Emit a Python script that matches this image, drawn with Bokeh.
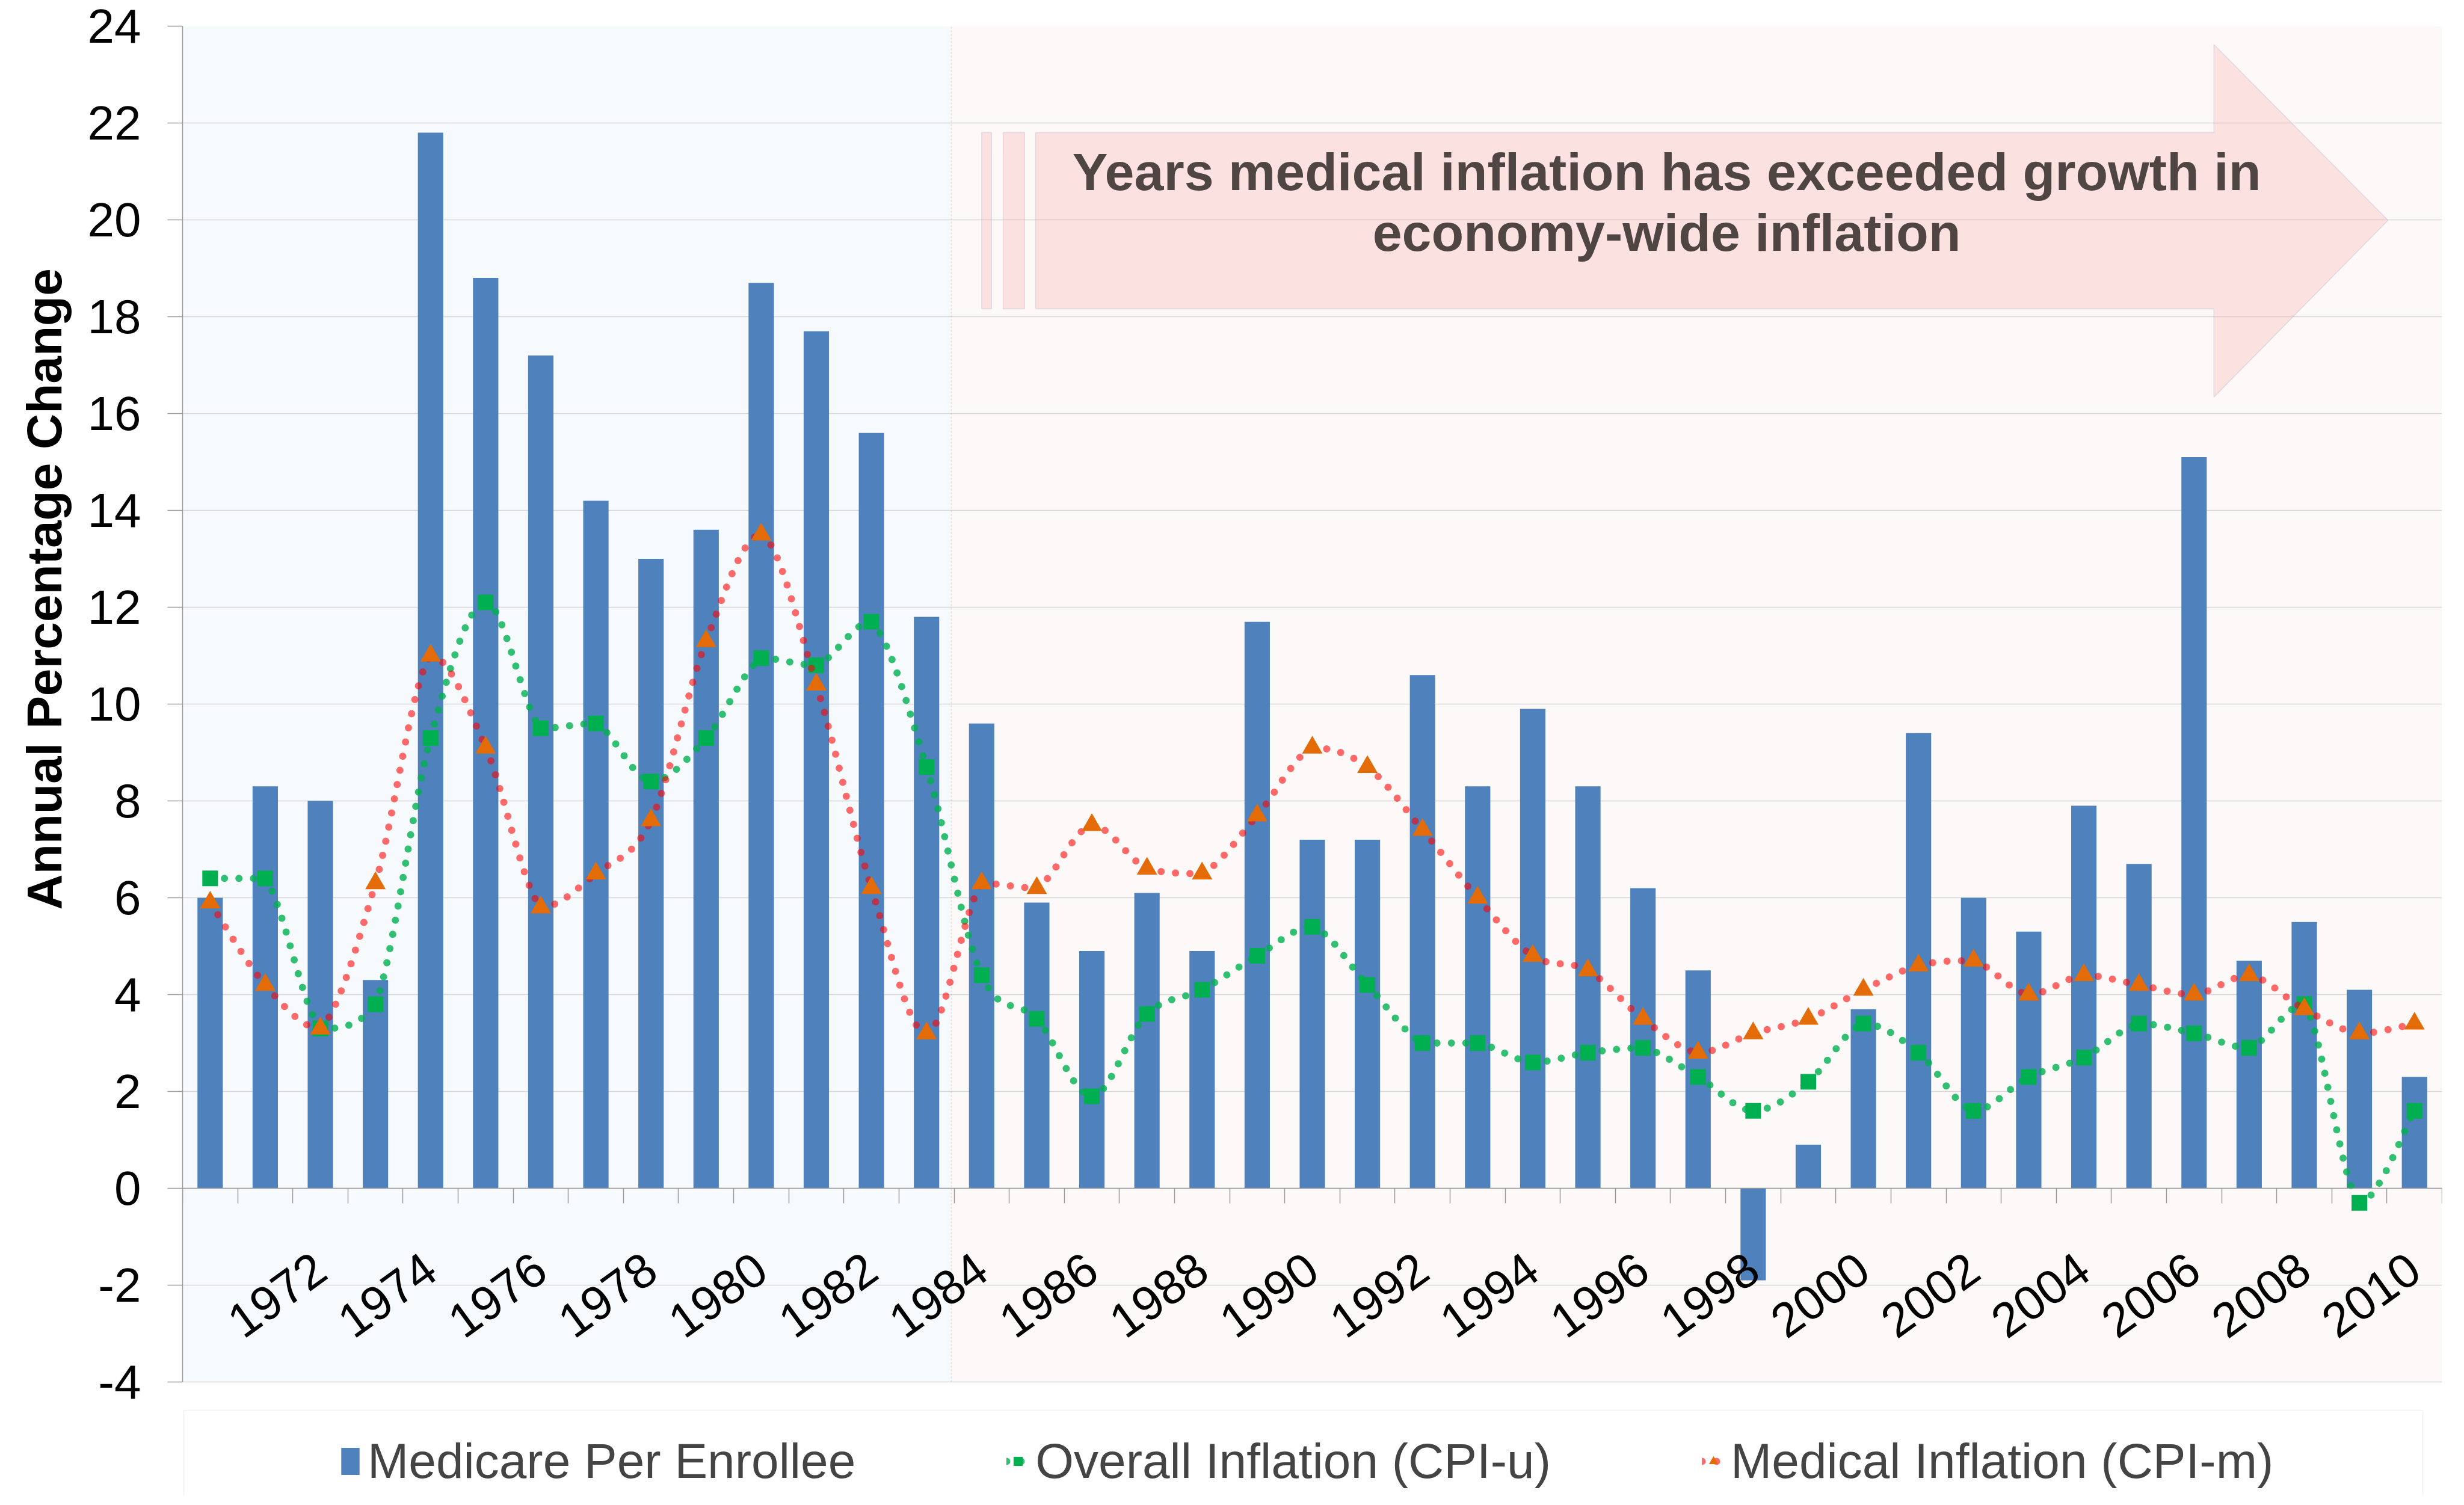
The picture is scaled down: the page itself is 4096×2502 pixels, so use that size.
import math
from bokeh.plotting import figure
from bokeh.models import (FixedTicker, Legend, LegendItem, BoxAnnotation, Title,
                          PolyAnnotation, Label, Range1d, ColumnDataSource)
from bokeh.embed import file_html
from bokeh.resources import INLINE

# ---------------- data ----------------
years = list(range(1970, 2011))
medicare_per_enrollee = [6.0, 8.3, 8.0, 4.3, 21.8, 18.8, 17.2, 14.2, 13.0, 13.6,
                         18.7, 17.7, 15.6, 11.8, 9.6, 5.9, 4.9, 6.1, 4.9, 11.7,
                         7.2, 7.2, 10.6, 8.3, 9.9, 8.3, 6.2, 4.5, -1.9, 0.9,
                         3.7, 9.4, 6.0, 5.3, 7.9, 6.7, 15.1, 4.7, 5.5, 4.1,
                         2.3]
overall_inflation_cpi_u = [6.4, 6.4, 3.3, 3.8, 9.3, 12.1, 9.5, 9.6, 8.4, 9.3,
                           10.95, 10.8, 11.7, 8.7, 4.4, 3.5, 1.9, 3.6, 4.1, 4.8,
                           5.4, 4.2, 3.0, 3.0, 2.6, 2.8, 2.9, 2.3, 1.6, 2.2,
                           3.4, 2.8, 1.6, 2.3, 2.7, 3.4, 3.2, 2.9, 3.8, -0.3,
                           1.6]
medical_inflation_cpi_m = [5.9, 4.2, 3.3, 6.3, 11.0, 9.1, 5.8, 6.5, 7.6, 11.3,
                           13.5, 10.4, 6.2, 3.2, 6.3, 6.2, 7.5, 6.6, 6.5, 7.7,
                           9.1, 8.7, 7.4, 6.0, 4.8, 4.5, 3.5, 2.8, 3.2, 3.5,
                           4.1, 4.6, 4.7, 4.0, 4.4, 4.2, 4.0, 4.4, 3.7, 3.2,
                           3.4]
x_tick_labels = list(range(1972, 2011, 2))
y_ticks = list(range(-4, 25, 2))
series_names = ["Medicare Per Enrollee", "Overall Inflation (CPI-u)", "Medical Inflation (CPI-m)"]
arrow_text = ["Years medical inflation has exceeded growth in", "economy-wide inflation"]
y_title = "Annual Percentage Change"

FONT = "Liberation Sans"
PX_PER_UNIT = 80.5
FRAME_H = 2443
Y_LOW = y_ticks[-1] - FRAME_H / PX_PER_UNIT   # frame extends below -4 to hold the legend

# ---------------- figure ----------------
p = figure(frame_width=3756, frame_height=FRAME_H,
           min_border_left=303, min_border_right=21, min_border_top=43, min_border_bottom=0,
           x_range=Range1d(years[0] - 0.5, years[-1] + 0.5), y_range=Range1d(Y_LOW, y_ticks[-1]),
           output_backend="svg", toolbar_location=None)
p.background_fill_color = "white"
p.border_fill_color = "white"
p.outline_line_color = None

p.xgrid.visible = False
p.ygrid.ticker = FixedTicker(ticks=y_ticks)
p.ygrid.grid_line_color = "#D6D6D6"
p.ygrid.grid_line_width = 1.5

# shaded regions and divider
p.add_layout(BoxAnnotation(left=years[0] - 0.5, right=1983.45, bottom=y_ticks[0], top=y_ticks[-1],
                           fill_color="#F6FAFC", fill_alpha=1.0, line_alpha=0, level="image"))
p.add_layout(BoxAnnotation(left=1983.45, right=years[-1] + 0.5, bottom=y_ticks[0], top=y_ticks[-1],
                           fill_color="#FDF9F8", fill_alpha=1.0, line_alpha=0, level="image"))
p.add_layout(PolyAnnotation(xs=[1983.45, 1983.45], ys=[y_ticks[0], y_ticks[-1]], fill_alpha=0,
                            line_color="#9A9A9A", line_dash="3 3", line_width=1.5, level="underlay"))

# arrow annotation
arrow_style = dict(fill_color="#F7A8A8", fill_alpha=0.30, line_color="#A8A8C8", line_width=1.5)
p.add_layout(PolyAnnotation(xs=[1984.98, 2006.36, 2006.36, 2009.52, 2006.36, 2006.36, 1984.98],
                            ys=[21.80, 21.80, 23.62, 19.99, 16.34, 18.16, 18.16],
                            level="underlay", **arrow_style))
p.add_layout(BoxAnnotation(left=1984.00, right=1984.18, top=21.80, bottom=18.16, level="underlay", **arrow_style))
p.add_layout(BoxAnnotation(left=1984.39, right=1984.78, top=21.80, bottom=18.16, level="underlay", **arrow_style))

# bars
bars = p.vbar(x=years, top=medicare_per_enrollee, bottom=0, width=0.46,
              fill_color="#4F81BD", line_color=None)


def smooth_segments(xs, ys):
    """Cubic Bezier control points for a smoothed line (no overshoot between points)."""
    n = len(xs)
    out = dict(x0=[], y0=[], x1=[], y1=[], cx0=[], cy0=[], cx1=[], cy1=[])
    for i in range(n - 1):
        a = max(i - 1, 0)
        d = min(i + 2, n - 1)
        lo, hi = min(ys[i], ys[i + 1]), max(ys[i], ys[i + 1])
        out["x0"].append(xs[i]); out["y0"].append(ys[i])
        out["x1"].append(xs[i + 1]); out["y1"].append(ys[i + 1])
        out["cx0"].append(xs[i] + (xs[i + 1] - xs[a]) / 6.0)
        out["cy0"].append(min(hi, max(lo, ys[i] + (ys[i + 1] - ys[a]) / 6.0)))
        out["cx1"].append(xs[i + 1] - (xs[d] - xs[i]) / 6.0)
        out["cy1"].append(min(hi, max(lo, ys[i + 1] - (ys[d] - ys[i]) / 6.0)))
    return ColumnDataSource(out)


dot_style = dict(line_width=12, line_dash="0 24", line_cap="round")
g_line = p.bezier(x0="x0", y0="y0", x1="x1", y1="y1", cx0="cx0", cy0="cy0", cx1="cx1", cy1="cy1",
                  source=smooth_segments(years, overall_inflation_cpi_u),
                  line_color="#00B050", line_alpha=0.8, **dot_style)
g_pts = p.scatter(x=years, y=overall_inflation_cpi_u, marker="square", size=26,
                  fill_color="#00B050", line_color=None)
r_line = p.bezier(x0="x0", y0="y0", x1="x1", y1="y1", cx0="cx0", cy0="cy0", cx1="cx1", cy1="cy1",
                  source=smooth_segments(years, medical_inflation_cpi_m),
                  line_color="#FF0000", line_alpha=0.58, **dot_style)
r_pts = p.scatter(x=years, y=medical_inflation_cpi_m, marker="triangle", size=34,
                  fill_color="#E36C09", line_color=None)

# arrow text
for txt, yy in zip(arrow_text, [21.00, 19.74]):
    p.add_layout(Label(x=1996.43, y=yy, text=txt, text_align="center", text_baseline="alphabetic",
                       text_font=FONT, text_font_size="88px", text_font_style="bold",
                       text_color="#4F4543"))

# axes
xa = p.xaxis[0]
xa.fixed_location = 0
xa.ticker = FixedTicker(ticks=x_tick_labels, minor_ticks=[y - 0.5 for y in years] + [years[-1] + 0.5])
xa.major_label_overrides = {y: str(y) for y in x_tick_labels}
xa.major_tick_out = 0
xa.major_tick_in = 0
xa.minor_tick_out = 25
xa.minor_tick_in = 0
xa.minor_tick_line_color = "#9A9A9A"
xa.minor_tick_line_width = 1.5
xa.axis_line_color = "#9A9A9A"
xa.axis_line_width = 1.5
xa.major_label_orientation = math.radians(36)
xa.major_label_text_font = FONT
xa.major_label_text_font_size = "80px"
xa.major_label_text_color = "black"
xa.major_label_standoff = 100

ya = p.yaxis[0]
ya.bounds = (y_ticks[0], y_ticks[-1])
ya.ticker = FixedTicker(ticks=y_ticks)
ya.major_label_overrides = {t: str(t) for t in y_ticks}
ya.major_tick_out = 25
ya.major_tick_in = 0
ya.minor_tick_out = 0
ya.minor_tick_in = 0
ya.axis_line_color = "#9A9A9A"
ya.axis_line_width = 1.5
ya.major_tick_line_color = "#9A9A9A"
ya.major_tick_line_width = 1.5
ya.major_label_text_font = FONT
ya.major_label_text_font_size = "80px"
ya.major_label_text_color = "black"
ya.major_label_standoff = 44

p.add_layout(Title(text=y_title, align="left", offset=974, standoff=48,
                   text_font=FONT, text_font_size="82px", text_font_style="bold",
                   text_color="black"), "left")

# legend frame and legend (inside the frame area below the -4 line)
p.add_layout(BoxAnnotation(left=2, right=3724, top=142, bottom=-20,
                           left_units="screen", right_units="screen",
                           top_units="screen", bottom_units="screen",
                           fill_color="white", fill_alpha=1.0, line_color="#D0D0D0", line_width=1.5))
legend = Legend(items=[LegendItem(label=series_names[0], renderers=[bars]),
                       LegendItem(label=series_names[1], renderers=[g_line, g_pts]),
                       LegendItem(label=series_names[2], renderers=[r_line, r_pts])],
                orientation="horizontal", location=(260, 10),
                label_text_font=FONT, label_text_font_size="82px",
                glyph_width=38, glyph_height=56, label_height=94,
                label_standoff=10, spacing=251, padding=0, margin=0,
                border_line_alpha=0, background_fill_alpha=0)
p.add_layout(legend, "center")

open("out.html", "w").write(file_html(p, INLINE))
